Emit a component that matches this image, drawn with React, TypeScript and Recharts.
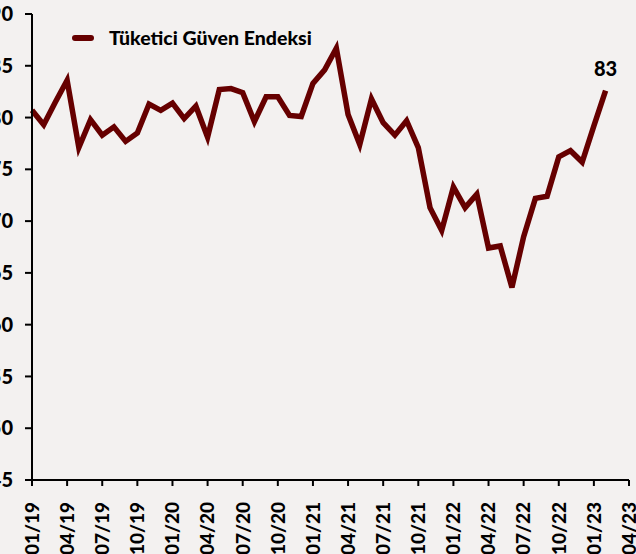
import { LabelList, Line, LineChart, XAxis, YAxis } from "recharts"

const months = [
  "01/19", "02/19", "03/19", "04/19", "05/19", "06/19", "07/19", "08/19", "09/19", "10/19", "11/19", "12/19",
  "01/20", "02/20", "03/20", "04/20", "05/20", "06/20", "07/20", "08/20", "09/20", "10/20", "11/20", "12/20",
  "01/21", "02/21", "03/21", "04/21", "05/21", "06/21", "07/21", "08/21", "09/21", "10/21", "11/21", "12/21",
  "01/22", "02/22", "03/22", "04/22", "05/22", "06/22", "07/22", "08/22", "09/22", "10/22", "11/22", "12/22",
  "01/23", "02/23", "03/23", "04/23",
]

const guvenEndeksi = [
  80.7, 79.3, 81.5, 83.6, 77.1, 79.8, 78.3, 79.1, 77.7, 78.5, 81.3, 80.7,
  81.4, 79.9, 81.1, 78.1, 82.7, 82.8, 82.4, 79.6, 82.0, 82.0, 80.2, 80.1,
  83.3, 84.6, 86.7, 80.3, 77.4, 81.8, 79.5, 78.3, 79.7, 77.1, 71.3, 69.1,
  73.3, 71.3, 72.6, 67.4, 67.6, 63.6, 68.5, 72.2, 72.4, 76.2, 76.8, 75.7,
  79.2, 82.6,
]

const yTicks = [45, 50, 55, 60, 65, 70, 75, 80, 85, 90]

const FONT = "Lato, 'Open Sans', sans-serif"
const LINE = "#660000"

const data = months.map((m, i) => ({
  month: m,
  value: i < guvenEndeksi.length ? guvenEndeksi[i] : null,
}))

// rotated month labels under the axis
const MonthTick = ({ x, y, payload }: any) => (
  <text
    x={x}
    y={y + 14}
    transform={`rotate(-90, ${x}, ${y + 14})`}
    textAnchor="end"
    dy="0.36em"
    fontFamily={FONT}
    fontWeight={900}
    fontSize={19}
    fill="#000"
  >
    {payload.value}
  </text>
)

const LastLabel = ({ x, y, index }: any) => {
  if (index !== guvenEndeksi.length - 1) return null
  return (
    <text x={x} y={y - 15} textAnchor="middle" fontFamily={FONT} fontWeight={900} fontSize={20} fill="#000">
      {Math.round(guvenEndeksi[index])}
    </text>
  )
}

export default function App() {
  return (
    <div style={{ position: "absolute", left: 0, top: 0, width: 636, height: 554, background: "#f3f1f0", overflow: "hidden" }}>
      <div style={{ position: "absolute", left: -20, top: 0 }}>
        <LineChart width={656} height={554} data={data} margin={{ top: 14, right: 7, left: 0, bottom: 0 }}>
          <XAxis
            dataKey="month"
            interval={2}
            height={74}
            tick={<MonthTick />}
            tickSize={6}
            stroke="#000"
            strokeWidth={2}
            tickLine={{ stroke: "#000", strokeWidth: 2 }}
          />
          <YAxis
            domain={[45, 90]}
            ticks={yTicks}
            width={52}
            tickSize={7}
            tickMargin={12}
            stroke="#000"
            strokeWidth={2}
            tickLine={{ stroke: "#000", strokeWidth: 2 }}
            tick={{ fontFamily: FONT, fontWeight: 900, fontSize: 20, fill: "#000" }}
          />
          <Line
            type="linear"
            dataKey="value"
            stroke={LINE}
            strokeWidth={5.5}
            dot={false}
            activeDot={false}
            isAnimationActive={false}
            connectNulls={false}
          >
            <LabelList dataKey="value" content={<LastLabel />} />
          </Line>
        </LineChart>
      </div>
      <div
        style={{
          position: "absolute", left: 72, top: 26, display: "flex", alignItems: "center",
          fontFamily: FONT, fontWeight: 900, fontSize: 19.5, color: "#000",
        }}
      >
        <div style={{ width: 22, height: 6, borderRadius: 3, background: LINE, marginRight: 15 }} />
        <span>Tüketici Güven Endeksi</span>
      </div>
    </div>
  )
}
